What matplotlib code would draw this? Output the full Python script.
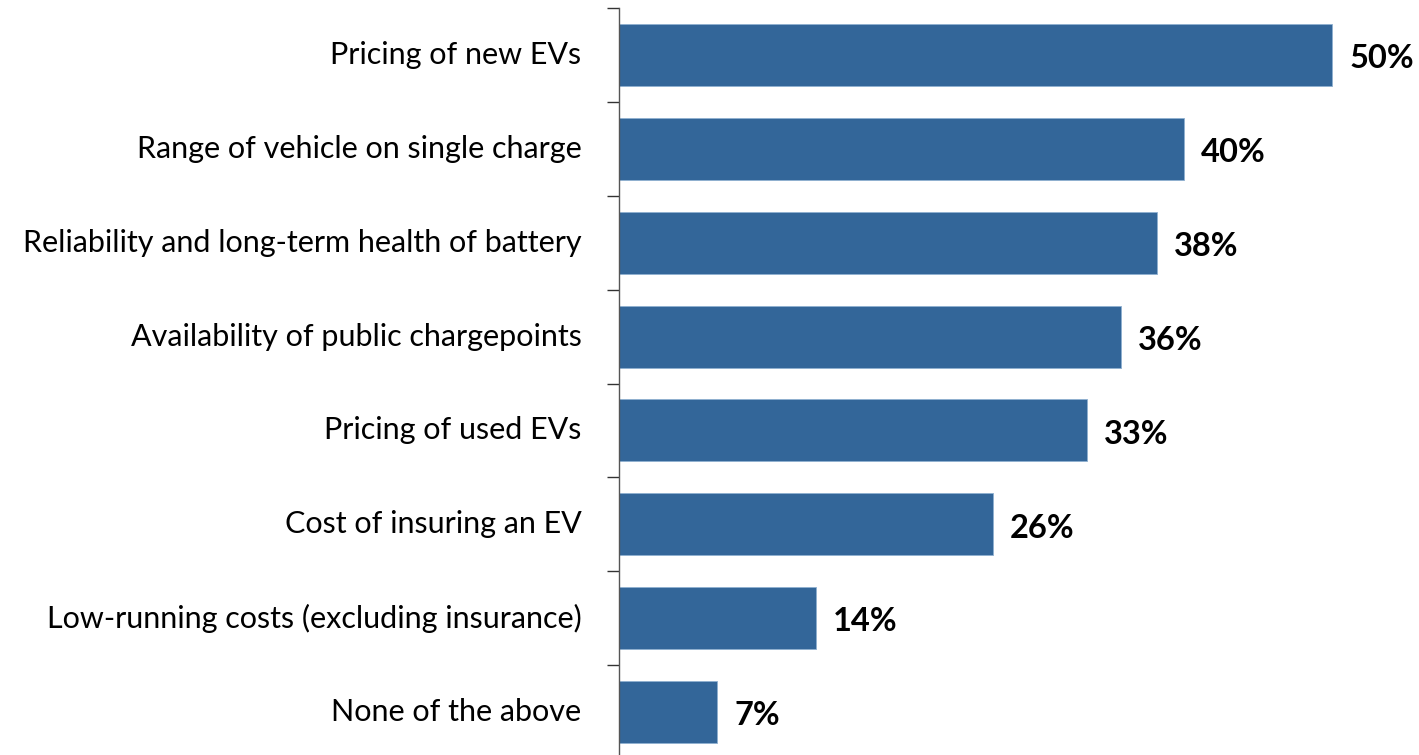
import matplotlib
matplotlib.use("Agg")
import matplotlib.pyplot as plt
import numpy as np

categories = [
    "Pricing of new EVs",
    "Range of vehicle on single charge",
    "Reliability and long-term health of battery",
    "Availability of public chargepoints",
    "Pricing of used EVs",
    "Cost of insuring an EV",
    "Low-running costs (excluding insurance)",
    "None of the above",
]
values = [50.0, 39.6, 37.7, 35.2, 32.8, 26.2, 13.8, 6.9]
value_labels = ["50%", "40%", "38%", "36%", "33%", "26%", "14%", "7%"]

plt.rcParams['font.family'] = ['Lato', 'DejaVu Sans']

fig = plt.figure(figsize=(14.19, 7.55), dpi=100)
ax = fig.add_axes([619 / 1419, 1 - 759 / 755, 1 - 619 / 1419, 751 / 755])

y = np.arange(len(categories))
ax.barh(y, values, height=0.66, color="#336699", edgecolor="#8fb0d0", linewidth=0.6)

for yi, v, lab in zip(y, values, value_labels):
    ax.text(v + 1.2, yi + 0.04, lab, va="center", ha="left", fontsize=23.5,
            fontweight="bold", color="black")

ax.set_ylim(len(categories) - 0.5, -0.5)
ax.set_xlim(0, 56.1)
ax.set_yticks(y)
ax.set_yticklabels(categories, fontsize=22)
ax.tick_params(axis="y", which="major", length=0, pad=27)
for t in ax.get_yticklabels():
    t.set_verticalalignment("center")
ax.set_yticks(np.arange(-0.5, len(categories), 1), minor=True)
ax.tick_params(axis="y", which="minor", length=8.6, width=1, color="#333333")
ax.set_xticks([])
for s in ["top", "right", "bottom"]:
    ax.spines[s].set_visible(False)
ax.spines["left"].set_color("#555555")
ax.spines["left"].set_linewidth(1)

fig.savefig("out.png", dpi=100)
